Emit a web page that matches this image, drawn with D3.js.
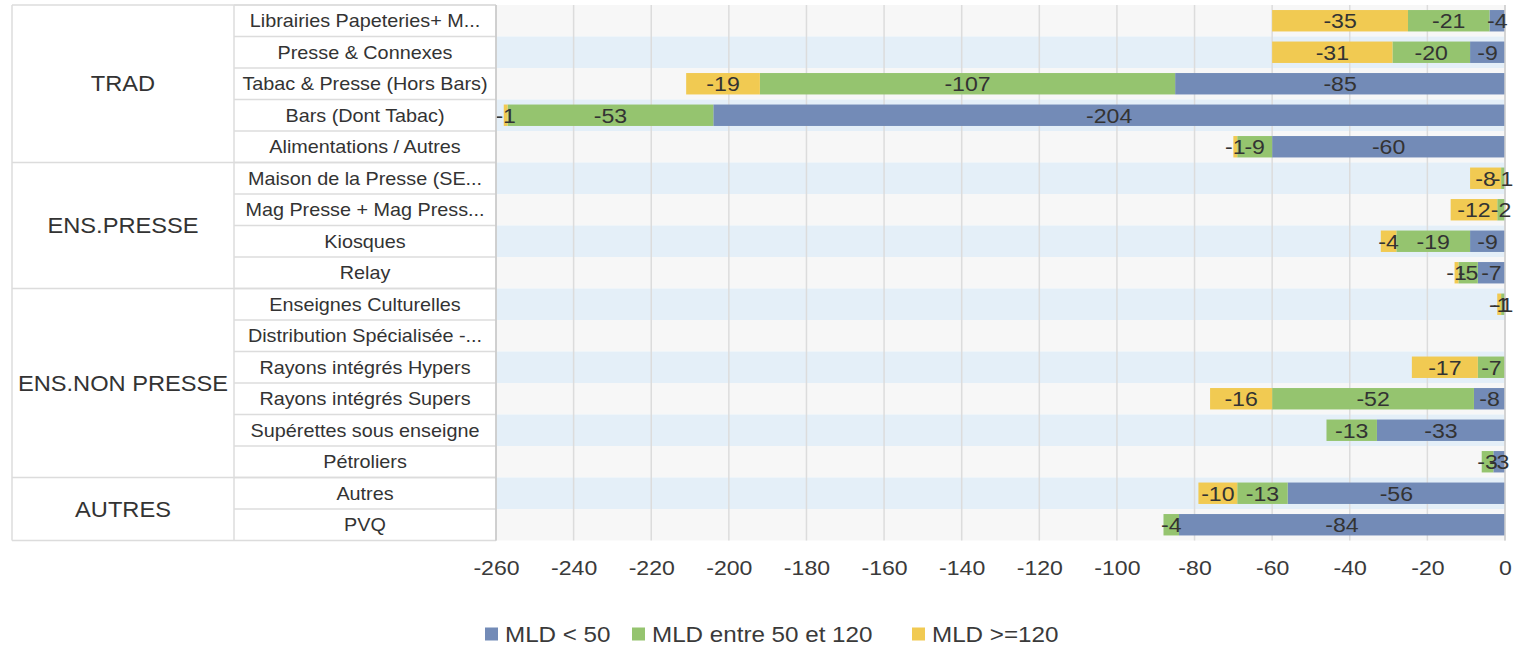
<!DOCTYPE html>
<html>
<head>
<meta charset="utf-8">
<script src="https://cdn.jsdelivr.net/npm/d3@7"></script>
<style>
  html, body { margin: 0; padding: 0; background: #fff; }
  svg { display: block; font-family: "Liberation Sans", Arial, sans-serif; }
</style>
</head>
<body>
<svg id="chart" width="1513" height="647"></svg>
<script>
// Channel groups and their sub-categories (row order, top to bottom)
const groups = [
  { name: "TRAD", size: 5 },
  { name: "ENS.PRESSE", size: 4 },
  { name: "ENS.NON PRESSE", size: 6 },
  { name: "AUTRES", size: 2 }
];
const categories = [
  "Librairies Papeteries+ M...",
  "Presse & Connexes",
  "Tabac & Presse (Hors Bars)",
  "Bars (Dont Tabac)",
  "Alimentations / Autres",
  "Maison de la Presse (SE...",
  "Mag Presse + Mag Press...",
  "Kiosques",
  "Relay",
  "Enseignes Culturelles",
  "Distribution Spécialisée -...",
  "Rayons intégrés Hypers",
  "Rayons intégrés Supers",
  "Supérettes sous enseigne",
  "Pétroliers",
  "Autres",
  "PVQ"
];
const seriesNames = ["MLD < 50", "MLD entre 50 et 120", "MLD >=120"];
const mldUnder50   = [-4, -9, -85, -204, -60, 0, 0, -9, -7, 0, 0, 0, -8, -33, -3, -56, -84];
const mld50to120   = [-21, -20, -107, -53, -9, -1, -2, -19, -5, -1, 0, -7, -52, -13, -3, -13, -4];
const mldOver120   = [-35, -31, -19, -1, -1, -8, -12, -4, -1, -1, 0, -17, -16, 0, 0, -10, 0];
const xTicks = [-260, -240, -220, -200, -180, -160, -140, -120, -100, -80, -60, -40, -20, 0];
const colors = ["#738bb7", "#95c46f", "#f1ca52"];

const svg = d3.select("#chart");
const plotLeft = 496, plotRight = 1505, plotTop = 5, plotBottom = 540.5;
const tableLeft = 12, groupRight = 234;
const stretch = 1.1;           // text is drawn slightly wide
const textC = "#333";

const x = d3.scaleLinear().domain([-260, 0]).range([plotLeft, plotRight]);
const y = d3.scaleBand().domain(categories).range([plotTop, plotBottom]).paddingInner(0).paddingOuter(0);
const rowH = y.bandwidth();
const barH = rowH * 0.68;

// Places a wide text centred at (cx, cy)
function wideText(sel, cx, cy, size) {
  return sel.attr("transform", (d, i) => `translate(${cx(d, i)},${cy(d, i)}) scale(${stretch},1)`)
    .attr("dy", "0.36em").attr("text-anchor", "middle")
    .attr("font-size", size).attr("fill", textC);
}

// Row bands
svg.append("g").selectAll("rect").data(categories).join("rect")
  .attr("x", plotLeft).attr("width", plotRight - plotLeft)
  .attr("y", d => y(d)).attr("height", rowH)
  .attr("fill", (d, i) => i % 2 ? "#e4eff8" : "#f7f7f7");

// Vertical gridlines
svg.append("g").selectAll("line").data(xTicks).join("line")
  .attr("x1", d => x(d)).attr("x2", d => x(d))
  .attr("y1", plotTop).attr("y2", plotBottom)
  .attr("stroke", "#dcdcdc").attr("stroke-width", 1.5);

// Stacked segments, stacking leftward from zero
const rows = categories.map((c, i) => ({ cat: c, v: [mldUnder50[i], mld50to120[i], mldOver120[i]] }));
const segs = [];
rows.forEach(r => {
  let acc = 0;
  r.v.forEach((v, k) => {
    segs.push({ cat: r.cat, k, v, x0: acc, x1: acc + v });
    acc += v;
  });
});
const visible = segs.filter(s => s.v !== 0);
svg.append("g").selectAll("rect").data(visible).join("rect")
  .attr("x", d => x(d.x1)).attr("width", d => x(d.x0) - x(d.x1))
  .attr("y", d => y(d.cat) + (rowH - barH) / 2).attr("height", barH)
  .attr("fill", d => colors[d.k]);

// Zero line
svg.append("line").attr("x1", x(0)).attr("x2", x(0)).attr("y1", plotTop).attr("y2", plotBottom)
  .attr("stroke", "#cfcfcf").attr("stroke-width", 1.5);

// Segment value labels
wideText(svg.append("g").selectAll("text").data(visible).join("text"),
  d => (x(d.x0) + x(d.x1)) / 2, d => y(d.cat) + rowH / 2, 21)
  .text(d => String(d.v));

// Left header table
const tbl = svg.append("g");
const lineC = "#dcdcdc";
categories.forEach(c => {
  tbl.append("line").attr("x1", groupRight).attr("x2", plotLeft)
    .attr("y1", y(c)).attr("y2", y(c)).attr("stroke", lineC).attr("stroke-width", 1.5);
});
let start = 0;
const groupPos = [];
groups.forEach(g => {
  const y0 = plotTop + start * rowH, y1 = plotTop + (start + g.size) * rowH;
  tbl.append("line").attr("x1", tableLeft).attr("x2", plotLeft)
    .attr("y1", y0).attr("y2", y0).attr("stroke", lineC).attr("stroke-width", 1.5);
  groupPos.push({ name: g.name, cy: (y0 + y1) / 2 });
  start += g.size;
});
tbl.append("line").attr("x1", tableLeft).attr("x2", plotLeft)
  .attr("y1", plotBottom).attr("y2", plotBottom).attr("stroke", lineC).attr("stroke-width", 1.5);
[tableLeft, groupRight].forEach(xx => {
  tbl.append("line").attr("x1", xx).attr("x2", xx).attr("y1", plotTop).attr("y2", plotBottom)
    .attr("stroke", lineC).attr("stroke-width", 1.5);
});
tbl.append("line").attr("x1", plotLeft).attr("x2", plotLeft).attr("y1", plotTop).attr("y2", plotBottom)
  .attr("stroke", "#c8c8c8").attr("stroke-width", 1.5);

wideText(tbl.selectAll("text.grp").data(groupPos).join("text").attr("class", "grp"),
  () => (tableLeft + groupRight) / 2, d => d.cy, 21.5).text(d => d.name);
wideText(tbl.selectAll("text.cat").data(categories).join("text").attr("class", "cat"),
  () => (groupRight + plotLeft) / 2, d => y(d) + rowH / 2, 18).text(d => d);

// X axis
const xAxis = svg.append("g").attr("transform", `translate(0,${plotBottom})`)
  .call(d3.axisBottom(x).tickValues(xTicks).tickSize(0).tickPadding(20).tickFormat(d => String(d)));
xAxis.select(".domain").remove();
xAxis.selectAll("text").attr("font-size", 21).attr("fill", "#3a3a3a")
  .attr("font-family", "Liberation Sans, Arial, sans-serif")
  .attr("transform", `scale(${stretch},1)`)
  .attr("x", function () { return 0; });

// Legend
const legendItems = [
  { name: seriesNames[0], color: colors[0], x: 485 },
  { name: seriesNames[1], color: colors[1], x: 632 },
  { name: seriesNames[2], color: colors[2], x: 912 }
];
const lg = svg.append("g").selectAll("g").data(legendItems).join("g")
  .attr("transform", d => `translate(${d.x},634)`);
lg.append("rect").attr("x", 0).attr("y", -6.5).attr("width", 13).attr("height", 13).attr("fill", d => d.color);
lg.append("text").attr("transform", `translate(20,0) scale(${stretch},1)`).attr("dy", "0.36em")
  .attr("font-size", 22).attr("fill", "#3a3a3a").text(d => d.name);
</script>
</body>
</html>
